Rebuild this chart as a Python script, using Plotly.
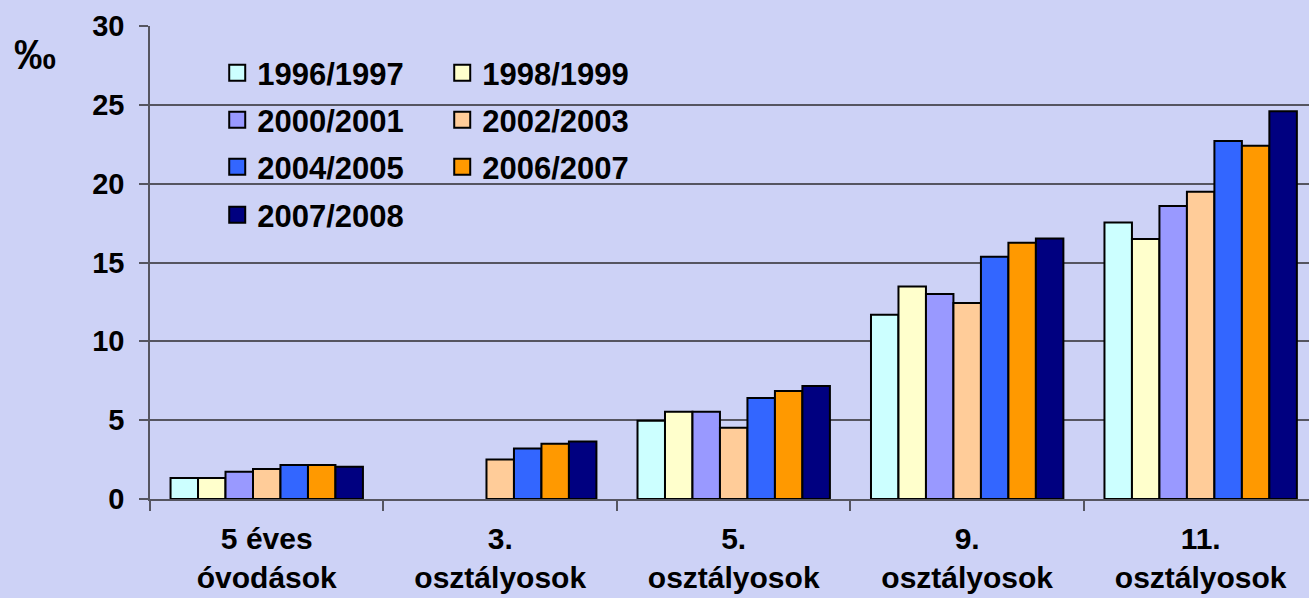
import plotly.graph_objects as go

categories = ["5 éves<br>óvodások", "3.<br>osztályosok", "5.<br>osztályosok",
              "9.<br>osztályosok", "11.<br>osztályosok"]
series_names = ["1996/1997", "1998/1999", "2000/2001", "2002/2003",
                "2004/2005", "2006/2007", "2007/2008"]
colors = ["#CCFFFF", "#FFFFCC", "#9999FF", "#FFCC99", "#3366FF", "#FF9900", "#000080"]

v1996 = [1.33, None, 4.97, 11.69, 17.54]
v1998 = [1.33, None, 5.54, 13.47, 16.49]
v2000 = [1.73, None, 5.54, 13.00, 18.58]
v2002 = [1.90, 2.50, 4.52, 12.43, 19.48]
v2004 = [2.16, 3.20, 6.40, 15.37, 22.70]
v2006 = [2.16, 3.50, 6.85, 16.26, 22.40]
v2007 = [2.05, 3.65, 7.17, 16.53, 24.60]
values = [v1996, v1998, v2000, v2002, v2004, v2006, v2007]

y_ticks = [0, 5, 10, 15, 20, 25, 30]

FONT = "Liberation Sans, Arial, sans-serif"
BG = "#CDD2F6"
GRID = "#555560"

fig = go.Figure()
for name, col, vals in zip(series_names, colors, values):
    fig.add_trace(go.Bar(
        x=categories, y=vals, name=name, showlegend=False,
        marker=dict(color=col, line=dict(color="black", width=2)),
    ))

legend_ids = ["legend", "legend2", "legend3", "legend4"]
for i, (name, col) in enumerate(zip(series_names, colors)):
    fig.add_trace(go.Scatter(
        x=[None], y=[None], mode="markers", name=name,
        legend=legend_ids[i // 2],
        marker=dict(symbol="square", size=16, color=col,
                    line=dict(color="black", width=2)),
    ))

row_px = [73, 120, 167, 215]
top, plot_h = 26, 473
leg_common = dict(orientation="h", xanchor="left", yanchor="middle",
                  bgcolor="rgba(0,0,0,0)", entrywidth=180, entrywidthmode="pixels",
                  font=dict(family=FONT, size=31, color="black", weight="bold"),
                  itemclick=False, tracegroupgap=0)
legends = {}
for k, lid in enumerate(legend_ids):
    legends[lid] = dict(leg_common, x=0.058, y=1 - (row_px[k] - top) / plot_h)

fig.update_layout(
    width=1309, height=598,
    margin=dict(l=150, r=0, t=26, b=99),
    paper_bgcolor=BG, plot_bgcolor=BG,
    barmode="group", bargap=0.176, bargroupgap=0,
    font=dict(family=FONT, color="black"),
    **legends,
)
fig.update_xaxes(
    type="category", range=[-0.5, 4.464], automargin=False,
    showline=True, linecolor=GRID, linewidth=1.5,
    ticks="outside", tickson="boundaries", ticklen=10, tickcolor=GRID, tickwidth=1.5,
    tickfont=dict(family=FONT, size=30, color="black", weight="bold"),
    ticklabelstandoff=12, showgrid=False,
)
fig.update_yaxes(
    range=[0, 30], tickvals=y_ticks, automargin=False,
    showline=True, linecolor=GRID, linewidth=1.5,
    ticks="outside", ticklen=9, tickcolor=GRID, tickwidth=1.5,
    showgrid=True, gridcolor=GRID, gridwidth=1.5, zeroline=False,
    tickfont=dict(family=FONT, size=29, color="black", weight="bold"),
    ticklabelstandoff=9,
)
fig.add_annotation(
    text="‰", xref="paper", yref="paper", x=(35 - 150) / 1159, y=1 - (54 - top) / plot_h,
    xanchor="center", yanchor="middle", showarrow=False,
    font=dict(family=FONT, size=42, color="black", weight="bold"),
)

fig.write_html("out.html", config={"displayModeBar": False},
               post_script="document.body.style.margin='0px';document.body.style.padding='0px';")
